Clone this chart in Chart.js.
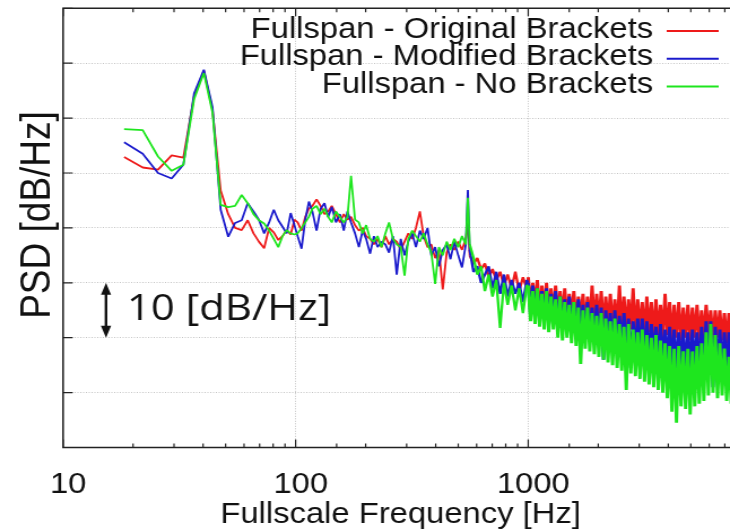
<!DOCTYPE html>
<html>
<head>
<meta charset="utf-8">
<script src="https://cdn.jsdelivr.net/npm/chart.js@4.4.1/dist/chart.umd.min.js"></script>
<style>
html, body { margin: 0; padding: 0; background: #fff; overflow: hidden; }
#wrap { width: 686px; height: 531px; transform: scaleX(1.13); transform-origin: 0 0; }
</style>
</head>
<body>
<div id="wrap"><canvas id="myChart" width="686" height="531"></canvas></div>
<script>
// frequency axis (Hz)
var freqHz = [
  18.3, 22.0, 25.6, 29.3, 32.9, 36.6, 40.3, 43.9, 47.6, 51.3, 54.9, 58.6, 62.2, 65.9, 69.5, 73.2, 76.9, 80.5, 84.2, 87.8, 91.5, 95.2, 98.8,
  102, 106, 110, 114, 118, 123, 128, 133, 138, 143, 149, 155, 161, 167, 173, 180, 187, 194, 201, 209,
  217, 225, 234, 243, 252, 262, 272, 283, 294, 305, 317, 329, 342, 355, 369, 383, 398, 413, 429, 446,
  463, 481, 500, 519, 539, 550, 560, 582, 604, 627, 651, 676, 702, 729, 757, 786, 816, 848, 880, 914, 949, 985,
  1000, 1023, 1046, 1070, 1094, 1119, 1145, 1171, 1198, 1225, 1253, 1282, 1311, 1341, 1371, 1403, 1435, 1467, 1501, 1535,
  1570, 1606, 1643, 1680, 1719, 1758, 1798, 1839, 1881, 1924, 1968, 2013, 2059, 2106, 2154, 2203, 2253, 2305, 2357, 2411,
  2466, 2523, 2580, 2639, 2699, 2761, 2824, 2889, 2955, 3022, 3091, 3162, 3234, 3308, 3384, 3461, 3540, 3621, 3704, 3788,
  3875, 3963, 4054, 4147, 4241, 4338, 4437, 4539, 4642, 4748, 4857, 4968, 5081, 5197, 5316, 5438, 5562, 5689, 5819, 5952,
  6088, 6227, 6369, 6515, 6664, 6816, 6972, 7131, 7294, 7461, 7632, 7806
];

// PSD [dB/Hz], Fullspan - Original Brackets
var psdOriginal = [
  52.9, 51.0, 50.6, 53.2, 52.8, 64.0, 68.6, 61.5, 46.8, 42.5, 40.0, 39.6, 41.4, 39.0, 37.5, 36.3, 40.0, 39.2, 37.8, 38.5, 39.6, 38.8, 41.5,
  41.0, 39.5, 42.0, 43.5, 44.0, 45.2, 44.0, 42.5, 43.0, 44.0, 42.5, 41.0, 42.5, 41.5, 42.0, 40.5, 39.5, 40.0, 38.5, 38.0,
  37.0, 38.0, 36.5, 38.5, 37.0, 38.0, 37.5, 36.0, 37.5, 39.0, 38.0, 40.0, 43.0, 38.5, 36.5, 37.0, 34.5, 36.0, 28.8, 35.5,
  37.0, 36.0, 37.5, 36.0, 38.0, 41.0, 35.0, 33.5, 34.5, 32.5, 33.5, 31.0, 32.5, 30.5, 32.0, 29.5, 31.5, 29.0, 32.0, 28.5, 31.0, 29.0,
  31.0, 25.5, 30.0, 26.0, 30.5, 24.5, 29.5, 25.0, 30.0, 24.0, 29.0, 24.5, 29.5, 23.5, 28.5, 24.0, 29.0, 23.0, 28.0, 23.5,
  28.5, 22.5, 27.5, 23.0, 28.0, 22.0, 27.5, 22.5, 29.5, 22.0, 28.0, 22.5, 28.5, 21.5, 27.5, 22.0, 28.0, 21.5, 27.0, 21.0,
  29.5, 21.5, 27.5, 21.0, 27.0, 21.5, 29.0, 20.5, 27.0, 21.0, 26.5, 20.5, 27.5, 21.0, 26.5, 20.0, 27.0, 20.5, 26.0, 20.0,
  28.0, 20.5, 26.5, 19.5, 26.0, 20.0, 26.5, 19.5, 25.5, 20.0, 26.0, 19.5, 25.5, 20.0, 26.0, 19.5, 25.0, 20.0, 26.0, 20.5,
  25.0, 19.5, 25.0, 20.0, 25.0, 19.5, 24.5, 19.0, 24.5, 19.5, 24.0, 19.0
];

// Fullspan - Modified Brackets
var psdModified = [
  55.6, 53.5, 50.0, 49.0, 51.5, 64.5, 68.8, 62.0, 43.3, 38.4, 40.9, 41.4, 44.5, 43.0, 41.5, 39.0, 41.0, 43.3, 41.4, 40.2, 39.0, 42.7, 40.5,
  38.5, 36.2, 41.5, 44.8, 43.0, 39.5, 43.5, 44.5, 42.0, 43.8, 41.0, 42.5, 39.5, 43.0, 41.0, 39.0, 36.5, 39.5, 38.0, 35.3,
  38.5, 36.5, 37.5, 37.0, 35.5, 38.5, 31.5, 38.0, 35.0, 37.5, 39.0, 36.5, 39.5, 38.0, 40.0, 35.0, 36.5, 33.0, 36.0, 37.0,
  34.3, 37.5, 35.0, 32.8, 37.0, 46.9, 36.0, 32.0, 33.0, 30.0, 31.5, 33.0, 29.0, 32.0, 28.0, 31.5, 27.5, 30.5, 28.0, 30.0, 26.5, 30.5,
  30.0, 24.0, 29.5, 24.5, 29.0, 23.5, 28.5, 23.0, 29.0, 22.5, 28.0, 23.0, 28.5, 22.0, 27.5, 22.5, 27.0, 21.0, 27.5, 21.5,
  26.5, 20.5, 27.0, 21.0, 26.0, 20.0, 26.5, 20.5, 25.5, 19.5, 26.0, 19.0, 25.5, 16.0, 25.0, 19.5, 24.5, 18.5, 25.0, 18.0,
  24.0, 18.5, 24.5, 17.5, 23.5, 14.5, 23.0, 17.5, 23.5, 17.0, 23.5, 16.5, 23.0, 16.0, 22.5, 16.5, 22.0, 15.5, 22.5, 15.0,
  21.5, 15.5, 22.0, 14.5, 21.5, 14.0, 21.0, 14.5, 21.5, 13.5, 21.0, 14.0, 21.5, 14.5, 21.0, 14.0, 22.0, 15.0, 23.0, 15.5,
  23.0, 11.0, 22.0, 14.5, 21.5, 14.0, 21.0, 13.5, 21.0, 13.0, 21.0, 13.5
];

// Fullspan - No Brackets
var psdNone = [
  58.0, 57.8, 53.0, 50.4, 51.5, 63.5, 68.2, 61.0, 44.2, 43.8, 44.0, 46.0, 44.5, 42.5, 41.4, 40.8, 39.5, 38.0, 36.5, 38.5, 39.6, 39.0, 38.8,
  39.0, 40.0, 41.0, 42.0, 43.5, 44.0, 42.5, 43.5, 42.0, 41.0, 43.0, 42.0, 41.0, 42.0, 49.5, 41.5, 41.0, 39.0, 40.5, 38.0,
  37.5, 38.5, 36.5, 39.0, 41.0, 38.0, 37.0, 36.5, 31.3, 38.0, 39.5, 38.5, 37.5, 39.0, 37.0, 35.5, 29.8, 36.5, 35.0, 37.5,
  36.0, 38.0, 36.5, 38.5, 37.0, 45.5, 37.0, 34.5, 31.5, 33.0, 28.5, 31.5, 27.5, 30.5, 21.8, 30.0, 26.0, 29.5, 25.0, 29.0, 24.5, 29.5,
  29.5, 23.0, 28.5, 22.5, 29.0, 22.0, 28.0, 21.5, 28.5, 21.0, 27.5, 21.5, 27.0, 20.0, 27.5, 19.5, 26.5, 20.0, 26.0, 19.0,
  26.5, 18.5, 25.5, 15.2, 25.0, 18.0, 25.5, 17.5, 24.5, 17.0, 24.0, 16.5, 24.5, 16.0, 23.5, 15.5, 23.0, 15.0, 23.5, 14.5,
  22.5, 14.0, 22.0, 10.5, 22.5, 13.5, 21.5, 13.0, 21.0, 12.5, 21.5, 12.0, 20.5, 11.5, 20.0, 11.0, 20.5, 10.5, 19.5, 10.0,
  19.0, 9.0, 18.5, 6.5, 18.0, 4.5, 18.5, 7.5, 17.5, 7.0, 18.0, 6.0, 17.5, 7.5, 18.5, 8.0, 19.0, 8.5, 21.0, 9.5,
  22.5, 10.0, 20.5, 9.0, 19.0, 9.5, 18.0, 8.5, 16.5, 8.0, 15.5, 8.5
];

var seriesLabels = ['Fullspan - Original Brackets', 'Fullspan - Modified Brackets', 'Fullspan - No Brackets'];
var seriesColors = ['#ee1a1a', '#1a1acc', '#1ee61e'];
var xTickLabels = [10, 100, 1000];
var scaleBar = { freq: 15.3, from: 30, to: 20, text: '10 [dB/Hz]' };

function toPoints(vals) {
  return vals.map(function(v, i) { return { x: freqHz[i], y: v }; });
}
function isLabelled(v) {
  return xTickLabels.some(function(t) { return Math.abs(t - v) < 1e-6; });
}
// the dense part of the spectrum is drawn heavier so it reads as a band
function segWidth(c) {
  var f = c.p0.parsed.x;
  if (f >= 990) return 2.9;
  if (f >= 560) return 2.3;
  return 1.8;
}

var decorations = {
  id: 'decorations',
  afterDraw: function(chart) {
    var ctx = chart.ctx, a = chart.chartArea;
    var xs = chart.scales.x, ys = chart.scales.y;
    ctx.save();

    // axis frame
    ctx.strokeStyle = '#222';
    ctx.lineWidth = 1.6;
    ctx.beginPath();
    ctx.moveTo(a.right, a.top); ctx.lineTo(a.left, a.top);
    ctx.lineTo(a.left, a.bottom); ctx.lineTo(a.right, a.bottom);
    ctx.stroke();

    // inward ticks
    ctx.lineWidth = 1.2;
    ctx.beginPath();
    xs.ticks.forEach(function(t) {
      var px = xs.getPixelForValue(t.value);
      var lg = Math.log10(t.value);
      var len = Math.abs(lg - Math.round(lg)) < 1e-6 ? 8 : 4;
      ctx.moveTo(px, a.bottom); ctx.lineTo(px, a.bottom - len);
      ctx.moveTo(px, a.top); ctx.lineTo(px, a.top + len);
    });
    ys.ticks.forEach(function(t) {
      var py = ys.getPixelForValue(t.value);
      ctx.moveTo(a.left, py); ctx.lineTo(a.left + 8.5, py);
    });
    ctx.stroke();

    // legend (text right, line sample on the right)
    ctx.font = '29px "Liberation Sans", Arial, sans-serif';
    ctx.textAlign = 'right';
    ctx.textBaseline = 'alphabetic';
    chart.data.datasets.forEach(function(ds, i) {
      var base = 37.5 + i * 27.75;
      ctx.fillStyle = '#111';
      ctx.fillText(ds.label, 578, base);
      ctx.strokeStyle = ds.borderColor;
      ctx.lineWidth = 2;
      ctx.beginPath();
      ctx.moveTo(590, base - 6.6); ctx.lineTo(636, base - 6.6);
      ctx.stroke();
    });

    // 10 dB scale arrow
    var ax = xs.getPixelForValue(scaleBar.freq);
    var y1 = ys.getPixelForValue(scaleBar.from), y2 = ys.getPixelForValue(scaleBar.to);
    ctx.strokeStyle = '#111'; ctx.fillStyle = '#111';
    ctx.lineWidth = 2.4;
    ctx.beginPath(); ctx.moveTo(ax, y1 + 8); ctx.lineTo(ax, y2 - 8); ctx.stroke();
    ctx.beginPath(); ctx.moveTo(ax, y1); ctx.lineTo(ax - 4.5, y1 + 12); ctx.lineTo(ax + 4.5, y1 + 12); ctx.closePath(); ctx.fill();
    ctx.beginPath(); ctx.moveTo(ax, y2); ctx.lineTo(ax - 4.5, y2 - 12); ctx.lineTo(ax + 4.5, y2 - 12); ctx.closePath(); ctx.fill();
    ctx.font = '37px "Open Sans", sans-serif';
    ctx.textAlign = 'left';
    ctx.fillText(scaleBar.text, ax + 18.5, y1 + 37.5);

    // axis titles
    ctx.font = '29px "Liberation Sans", Arial, sans-serif';
    ctx.textAlign = 'center';
    ctx.fillText('Fullscale Frequency [Hz]', 354.5, 523);
    ctx.save();
    ctx.translate(44, 215);
    ctx.rotate(-Math.PI / 2);
    ctx.font = '37px "Liberation Sans", Arial, sans-serif';
    ctx.fillText('PSD [dB/Hz]', 0, 0);
    ctx.restore();

    ctx.restore();
  }
};

var config = {
  type: 'line',
  data: {
    datasets: [
      { label: seriesLabels[0], data: toPoints(psdOriginal), borderColor: seriesColors[0], order: 3 },
      { label: seriesLabels[1], data: toPoints(psdModified), borderColor: seriesColors[1], order: 2 },
      { label: seriesLabels[2], data: toPoints(psdNone), borderColor: seriesColors[2], order: 1 }
    ]
  },
  options: {
    responsive: false,
    animation: false,
    parsing: false,
    layout: { padding: { left: 0, right: 12.7, top: 8.3, bottom: 0 } },
    elements: {
      line: { borderWidth: 1.8, tension: 0, borderJoinStyle: 'bevel' },
      point: { radius: 0 }
    },
    datasets: { line: { segment: { borderWidth: segWidth } } },
    plugins: { legend: { display: false }, tooltip: { enabled: false } },
    scales: {
      x: {
        type: 'logarithmic',
        min: 10,
        max: 10000,
        afterFit: function(s) { s.height = 83.5; s.paddingLeft = 0; s.paddingRight = 0; },
        grid: {
          drawTicks: false,
          lineWidth: 1,
          color: function(c) {
            var v = c.tick && c.tick.value;
            return (v === 100 || v === 1000) ? '#c4c4c4' : 'rgba(0,0,0,0)';
          }
        },
        border: { display: false, dash: [1, 1.5] },
        ticks: {
          autoSkip: false,
          maxRotation: 0,
          padding: 20,
          labelOffset: 4.5,
          color: '#111',
          font: { family: '"Liberation Sans", Arial, sans-serif', size: 29 },
          callback: function(v) { return isLabelled(v) ? String(Math.round(v)) : ''; }
        }
      },
      y: {
        min: 0,
        max: 80,
        afterFit: function(s) { s.width = 55.8; s.paddingTop = 0; s.paddingBottom = 0; },
        grid: {
          drawTicks: false,
          lineWidth: 1,
          color: function(c) {
            var v = c.tick && c.tick.value;
            return (v > 0 && v < 80) ? '#c4c4c4' : 'rgba(0,0,0,0)';
          }
        },
        border: { display: false, dash: [1, 1.5] },
        ticks: { display: false, stepSize: 10 }
      }
    }
  },
  plugins: [decorations]
};

window.onload = function() {
  var ctx = document.getElementById('myChart');
  window.psdChart = new Chart(ctx, config);
};
</script>
</body>
</html>
